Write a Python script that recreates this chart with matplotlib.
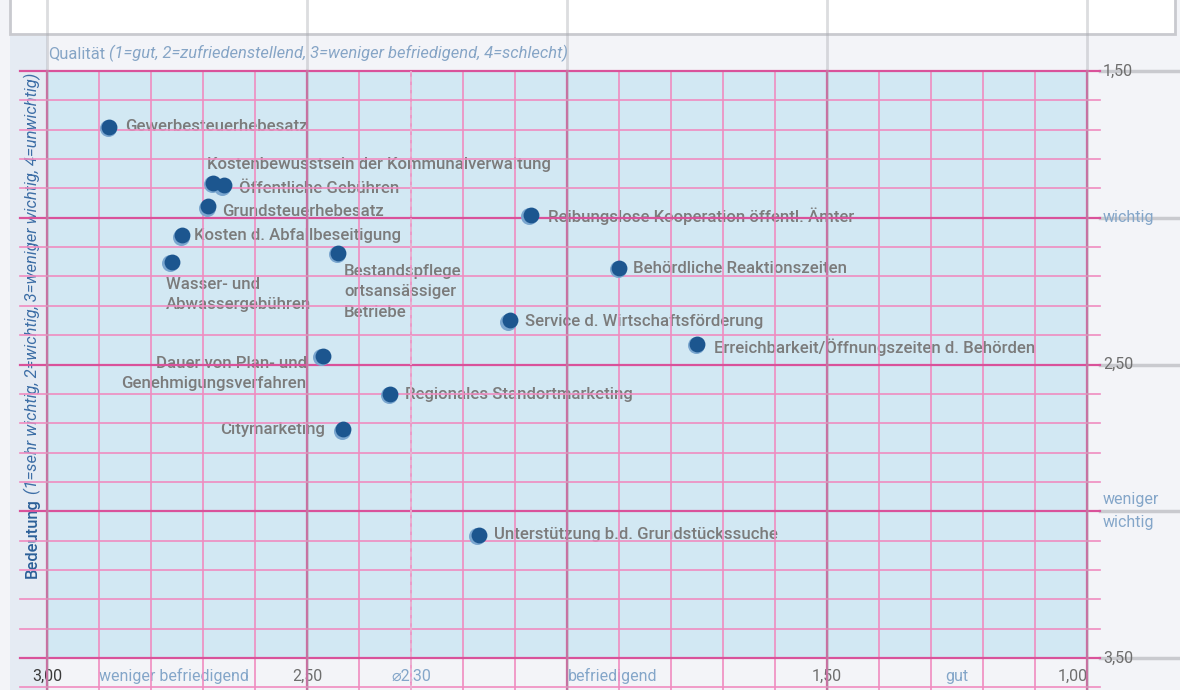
import matplotlib.pyplot as plt
import matplotlib.transforms as mtransforms
from matplotlib.patches import Rectangle
import numpy as np

plt.rcParams['font.family'] = ['Roboto', 'DejaVu Sans']

# Daten: Qualität (x) und Bedeutung (y)
labels = [
    "Gewerbesteuerhebesatz",
    "Kostenbewusstsein der Kommunalverwaltung",
    "Öffentliche Gebühren",
    "Grundsteuerhebesatz",
    "Kosten d. Abfallbeseitigung",
    "Wasser- und\nAbwassergebühren",
    "Bestandspflege\nortsansässiger\nBetriebe",
    "Reibungslose Kooperation öffentl. Ämter",
    "Behördliche Reaktionszeiten",
    "Service d. Wirtschaftsförderung",
    "Erreichbarkeit/Öffnungszeiten d. Behörden",
    "Dauer von Plan- und\nGenehmigungsverfahren",
    "Regionales Standortmarketing",
    "Citymarketing",
    "Unterstützung b.d. Grundstückssuche",
]
quality = [2.88, 2.68, 2.66, 2.69, 2.74, 2.76, 2.44, 2.07, 1.90, 2.11, 1.75, 2.47, 2.34, 2.43, 2.17]
importance = [1.69, 1.88, 1.89, 1.96, 2.06, 2.15, 2.12, 1.99, 2.17, 2.35, 2.43, 2.47, 2.60, 2.72, 3.08]

# Beschriftungs-Versatz in Pixeln (dx, dy, ha)
label_offsets = [
    (16, 0, 'left'), (-6, 18, 'left'), (15, -3, 'left'), (14, -5, 'left'),
    (12, 0, 'left'), (-6, -33, 'left'), (6, -39, 'left'), (17, -1, 'left'),
    (14, -1, 'left'), (15, -1, 'left'), (17, -3, 'left'), (-16, -18, 'right'),
    (15, -1, 'left'), (-18, 0, 'right'), (15, 0, 'left'),
]

xtick_vals = [3.00, 2.755, 2.50, 2.30, 1.913, 1.50, 1.25, 1.028]
xtick_text = ['3,00', 'weniger befriedigend', '2,50', '\u23002,30', 'befriedigend', '1,50', 'gut', '1,00']
ytick_vals = [1.50, 2.00, 2.50, 3.00, 3.50]
ytick_text = ['1,50', 'wichtig', '2,50', 'weniger\nwichtig', '3,50']

pink = '#f08cc0'
pink_dark = '#d9529a'
gray_line = '#c9cacf'
num_col = '#6e6e6e'
word_col = '#84a6c9'
label_col = '#7b7b7b'
dot_col = '#1c568f'

fig = plt.figure(figsize=(11.8, 6.9), dpi=100, facecolor='#f3f4f8')
W, H = 1180, 690
x0, x1, ytop, ybot = 47, 1087, 71, 658
ax = fig.add_axes([x0 / W, (H - ybot) / H, (x1 - x0) / W, (ybot - ytop) / H])
ax.set_zorder(1)
ax.set_facecolor('#d2e8f3')
ax.set_xlim(3.0, 1.0)
ax.set_ylim(3.5, 1.5)
for s in ax.spines.values():
    s.set_visible(False)
ax.set_xticks([])
ax.set_yticks([])

# Hintergrundflächen
fig.patches.append(Rectangle((10 / W, (H - 34) / H), 1165 / W, 40 / H, transform=fig.transFigure,
                             facecolor='white', edgecolor=gray_line, lw=2, zorder=-2))
fig.patches.append(Rectangle((10 / W, 0), 37 / W, (H - 36) / H, transform=fig.transFigure,
                             facecolor='#e5ebf3', edgecolor='none', zorder=-2))

ax_w, ax_h = x1 - x0, ybot - ytop
below = -(H - ybot) / ax_h

# Raster alle 0,1 (liegt über den Beschriftungen)
for v in np.arange(1.0, 3.01, 0.1):
    major = abs(v * 2 - round(v * 2)) < 1e-6
    ax.axvline(v, ymin=below, ymax=1, color=pink_dark if major else pink,
               lw=1.6 if major else 1.2, clip_on=False, zorder=4)
for v in np.arange(1.5, 3.61, 0.1):
    major = abs(v * 2 - round(v * 2)) < 1e-6
    ax.axhline(v, xmin=-27 / ax_w, xmax=1 + 13 / ax_w, color=pink_dark if major else pink,
               lw=1.6 if major else 1.2, clip_on=False, zorder=4)

# Durchschnitt 2,30
ax.axvline(2.30, ymin=below, ymax=1, color='#e9b6d4', lw=1.2, ls=(0, (3, 2)), clip_on=False, zorder=4.1)

# graue Seitenlinien
for v in [3.0, 2.5, 2.0, 1.5, 1.0]:
    ax.axvline(v, ymin=below, ymax=1 + ytop / ax_h, color='#a8aab0', lw=2, alpha=0.4,
               clip_on=False, zorder=5)
for v in ytick_vals:
    ax.axhline(v, xmin=1 + 13 / ax_w, xmax=1 + 93 / ax_w, color=gray_line, lw=2.5,
               clip_on=False, zorder=1)

# Punkte mit hellem Schatten
shadow = mtransforms.offset_copy(ax.transData, fig=fig, x=-1.5, y=-1.5, units='dots')
ax.scatter(quality, importance, s=150, color='#7aa6cf', transform=shadow, zorder=6, lw=0)
ax.scatter(quality, importance, s=130, color=dot_col, zorder=7, lw=0)

for lab, qx, iy, (dx, dy, ha) in zip(labels, quality, importance, label_offsets):
    ax.annotate(lab, (qx, iy), xytext=(dx, dy), textcoords='offset pixels', ha=ha, va='center',
                multialignment=ha, fontsize=12.1, fontweight='medium', color=label_col,
                linespacing=1.45, zorder=3)

# Achsenbeschriftungen unten
for v, t in zip(xtick_vals, xtick_text):
    col = num_col if t[0].isdigit() else word_col
    if t == '3,00':
        col = '#3a3a3a'
    ax.text(v, 3.5 + 18 / ax_h * 2, t, ha='center', va='center', fontsize=11.5, color=col, zorder=3)

# rechte Beschriftungen
for v, t in zip(ytick_vals, ytick_text):
    col = num_col if t[0].isdigit() else word_col
    ax.text(1 + 16 / ax_w, v, t, transform=ax.get_yaxis_transform(), ha='left', va='center',
            fontsize=11.5, color=col, linespacing=1.65, zorder=9)

# Titel Qualität
t1 = fig.text(48 / W, (H - 54) / H, 'Qualität', fontsize=11.9, color='#86a5c6', va='center', ha='left')
# Titel Bedeutung
t2 = fig.text(32 / W, (H - 578) / H, 'Bedeutung', fontsize=11.9, color='#2b5f98', rotation=90,
              ha='center', va='bottom', fontweight='medium', zorder=0.5)

fig.canvas.draw()
b1 = t1.get_window_extent()
b2 = t2.get_window_extent()
fig.text(b1.x1, b1.y0, ' (1=gut, 2=zufriedenstellend, 3=weniger befriedigend, 4=schlecht)',
         transform=None, ha='left', va='bottom', fontsize=11.9, style='italic', color='#86a5c6')
fig.text((b2.x0 + b2.x1) / 2, b2.y1, ' (1=sehr wichtig, 2=wichtig, 3=weniger wichtig, 4=unwichtig)',
         transform=None, ha='center', va='bottom', rotation=90, fontsize=11.9, style='italic',
         color='#3d6ea6', zorder=0.5)

fig.savefig('out.png', dpi=100, facecolor=fig.get_facecolor())
